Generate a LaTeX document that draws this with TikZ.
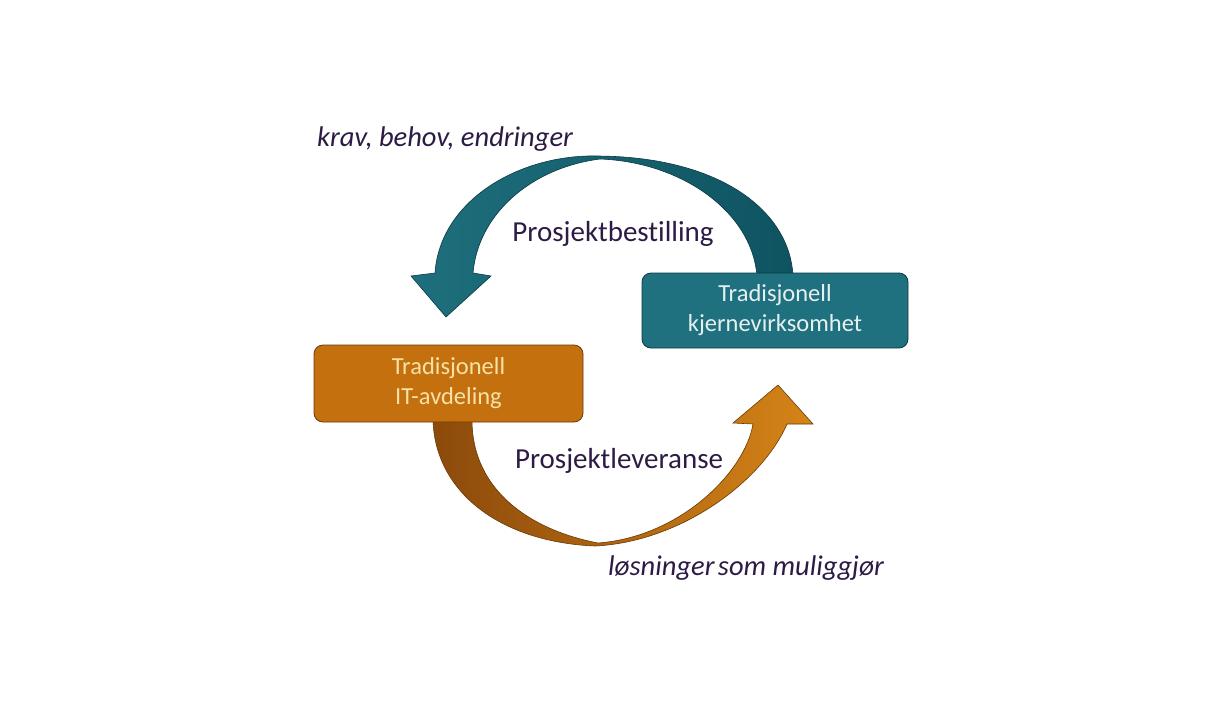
\documentclass[tikz,border=0pt]{standalone}
\usepackage{fontspec}
\setmainfont{Carlito}[Ligatures={NoCommon},RawFeature={-liga;-dlig}]
\definecolor{tealA}{HTML}{1E6F7D}
\definecolor{tealB}{HTML}{0F5361}
\definecolor{tealBox}{HTML}{1F717F}
\definecolor{tealEdge}{HTML}{0C3A42}
\definecolor{orA}{HTML}{8C4A0B}
\definecolor{orB}{HTML}{D58417}
\definecolor{orBox}{HTML}{C5700F}
\definecolor{orEdge}{HTML}{6A3905}
\definecolor{labcol}{HTML}{2D1B45}
\definecolor{orText}{HTML}{F6E2A6}
\definecolor{tealText}{HTML}{E6F0F0}
\tikzset{
  boxbase/.style={rounded corners=9pt, line width=0.8pt, align=center,
    font=\fontsize{24.5}{30}\selectfont, inner sep=0pt},
  tealbox/.style={boxbase, fill=tealBox, draw=tealEdge, text=tealText},
  orbox/.style={boxbase, fill=orBox, draw=orEdge, text=orText},
  lab/.style={text=labcol, font=\fontsize{29}{34}\selectfont, inner sep=0pt},
  ilab/.style={text=labcol, font=\fontsize{28.5}{34}\selectfont\itshape, inner sep=0pt},
}
\begin{document}
\begin{tikzpicture}[x=1pt,y=-1pt]
\useasboundingbox[fill=white] (0,0) rectangle (1224,705);
% top (teal) arrow
\coordinate (ta1) at (793,276);
\coordinate (ttop) at (598,156);
\coordinate (ta2) at (435,273);
\coordinate (tw1) at (411,276);
\coordinate (ttip) at (446,317);
\coordinate (tw2) at (491,276);
\coordinate (ta3) at (473,273);
\coordinate (ttop2) at (600,159);
\coordinate (ta4) at (757,276);
\path[draw=tealEdge, line width=0.6pt, left color=tealA, right color=tealB]
  (ta1) .. controls (790,212) and (722,157) .. (ttop)
  .. controls (520,154) and (440,200) .. (ta2)
  -- (tw1) -- (ttip) -- (tw2) -- (ta3)
  .. controls (478,215) and (530,168) .. (ttop2)
  .. controls (682,162) and (752,212) .. (ta4) -- cycle;
% bottom (orange) arrow
\coordinate (ba1) at (433,420);
\coordinate (bbot) at (595,546);
\coordinate (ba2) at (787,424);
\coordinate (bw1) at (813,424);
\coordinate (btip) at (778,385);
\coordinate (bw2) at (733,423);
\coordinate (ba3) at (753,424);
\coordinate (bbot2) at (598,543);
\coordinate (ba4) at (472,420);
\path[draw=orEdge, line width=0.6pt, left color=orA, right color=orB]
  (ba1) .. controls (435,492) and (500,542) .. (bbot)
  .. controls (680,542) and (762,482) .. (ba2)
  -- (bw1) -- (btip) -- (bw2) -- (ba3)
  .. controls (745,472) and (680,537) .. (bbot2)
  .. controls (530,530) and (472,490) .. (ba4) -- cycle;
% boxes
\node[tealbox, minimum width=266pt, minimum height=75pt] (core) at (775,310.5)
  {Tradisjonell\\kjernevirksomhet};
\node[orbox, minimum width=269pt, minimum height=77pt] (it) at (448.5,383.5)
  {Tradisjonell\\IT-avdeling};
% labels
\node[ilab] (krav) at (445,139) {krav, behov, endringer};
\node[lab] (best) at (613,234) {Prosjektbestilling};
\node[lab] (lev) at (619,461) {Prosjektleveranse};
\node[ilab] (los) at (746,568) {løsninger\hspace{0.12em}som muliggjør};
\end{tikzpicture}
\end{document}
